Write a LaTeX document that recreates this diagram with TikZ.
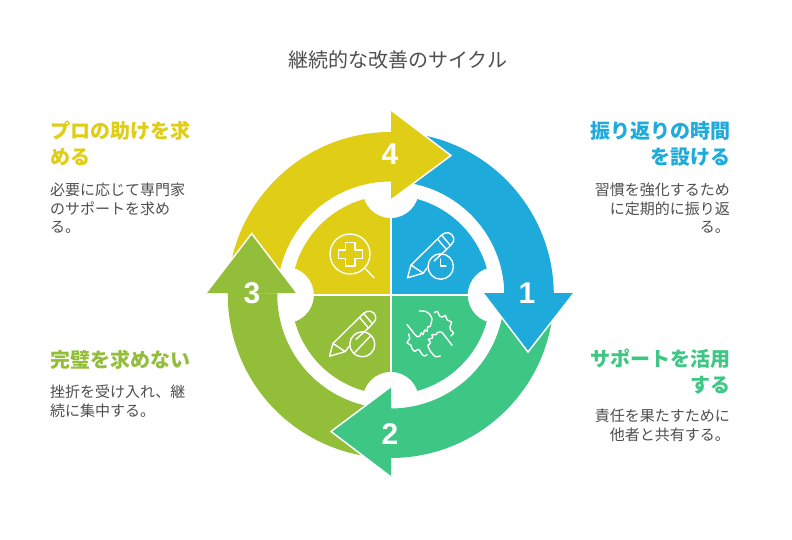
\documentclass[tikz,border=0pt]{standalone}
\usepackage{fontspec}
\setmainfont{Noto Sans CJK JP}
\newfontfamily\numfont{Liberation Sans}
\definecolor{cblue}{HTML}{1EABDB}
\definecolor{cgreen}{HTML}{3EC685}
\definecolor{colive}{HTML}{93BE39}
\definecolor{cyellow}{HTML}{E0CD15}
\definecolor{cbody}{HTML}{4F4F4F}
\tikzset{
  x=1pt,y=-1pt,
  maintitle/.style={font=\fontsize{20}{25}\selectfont,text=cbody,inner sep=0pt},
  headline/.style={font=\fontsize{20}{25.7}\selectfont\bfseries,inner sep=0pt},
  bodytext/.style={font=\fontsize{15}{18.4}\selectfont,text=cbody,inner sep=0pt},
  leftblock/.style={anchor=north west,align=left},
  rightblock/.style={anchor=north east,align=right},
  numlabel/.style={font=\fontsize{30}{30}\selectfont\numfont\bfseries,text=white,inner sep=0pt},
  iconline/.style={draw=white,line width=1.4pt,line cap=round,line join=round},
  headedge/.style={draw=white,line width=1.5pt},
}
\newcommand{\ringpart}[3]{\fill[#1] (#2:163) arc[start angle=#2,end angle=#3,radius=163pt] -- (#3:113.5) arc[start angle=#3,end angle=#2,radius=113.5pt] -- cycle;}
\newcommand{\piepart}[3]{\fill[#1] (0,0) -- (#2:99.5) arc[start angle=#2,end angle=#3,radius=99.5pt] -- cycle;}
\newcommand{\pencilicon}{%
  \draw[iconline] (411,265) -- (407.5,277.8) -- (423.2,273.2) -- cycle;
  \draw[iconline] (411,265) -- (437.5,239);
  \draw[iconline] (437.5,239) -- (446.5,249.5);
  \draw[iconline] (441.5,235) -- (450.5,245.5);
  \draw[iconline] (437.5,239) -- (441.5,235) .. controls (446,231) and (452,232.5) .. (453.5,237.5) .. controls (454.2,241) and (453,243) .. (450.5,245.5) -- (446.5,249.5);
  \draw[iconline] (446.5,249.5) -- (434,261);
  \draw[iconline] (427,268) -- (423.2,273.2);
}
\begin{document}
\begin{tikzpicture}
\useasboundingbox (0,0) rectangle (792,540);
\fill[white] (0,0) rectangle (792,540);
\coordinate (hub) at (390.8,295);

% inner quadrants with their notches, then the ring arcs
\begin{scope}[shift={(hub)},x=1pt,y=1pt]
  \piepart{cblue}{0}{90}
  \piepart{cyellow}{90}{180}
  \piepart{colive}{180}{270}
  \piepart{cgreen}{270}{360}
  \draw[white,line width=2pt] (-100,0) -- (100,0);
  \draw[white,line width=2pt] (0,-100) -- (0,100);
  \fill[white] (0:105) circle[radius=28pt];
  \fill[white] (90:105) circle[radius=28pt];
  \fill[white] (180:105) circle[radius=28pt];
  \fill[white] (270:105) circle[radius=28pt];
  \ringpart{cblue}{0}{90}
  \ringpart{cyellow}{90}{180}
  \ringpart{colive}{179.3}{270}
  \ringpart{cgreen}{270}{360}
\end{scope}

% arrow heads
\coordinate (h1a) at (483,293); \coordinate (h1b) at (528,352); \coordinate (h1c) at (574,293);
\coordinate (h2a) at (391,386.5); \coordinate (h2b) at (331,431.5); \coordinate (h2c) at (391,477);
\coordinate (h3a) at (206,293); \coordinate (h3b) at (251.7,233.5); \coordinate (h3c) at (297,293);
\coordinate (h4a) at (391,110); \coordinate (h4b) at (451,155.5); \coordinate (h4c) at (391,200);

\fill[cblue] (h1a) -- (h1b) -- (h1c) -- cycle;
\draw[headedge] (h1a) -- (h1b) -- (h1c);
\fill[cgreen] (h2a) -- (h2b) -- (h2c) -- cycle;
\draw[headedge] (h2a) -- (h2b) -- (h2c);
\fill[colive] (h3a) -- (h3b) -- (h3c) -- cycle;
\draw[headedge] (h3a) -- (h3b) -- (h3c);
\fill[cyellow] (h4a) -- (h4b) -- (h4c) -- cycle;
\draw[headedge] (h4a) -- (h4b) -- (h4c);

\node[numlabel] (n1) at (527,293) {1};
\node[numlabel] (n2) at (390,434) {2};
\node[numlabel] (n3) at (252,293) {3};
\node[numlabel] (n4) at (390,154) {4};

% icons
\begin{scope}
  \pencilicon
  \draw[iconline] (440.7,266.5) circle[radius=12.7pt];
  \draw[iconline] (440.7,259) -- (440.7,266) -- (446,266);
\end{scope}
\begin{scope}[shift={(-78,78.4)}]
  \pencilicon
\end{scope}
\draw[iconline] (362.3,344.3) circle[radius=12.5pt];
\draw[iconline] (354,353.3) -- (370.7,335.7);
% magnifier
\draw[iconline] (350,254) circle[radius=20pt];
\draw[iconline] (365.7,269) -- (374,277.7);
\draw[iconline] (345.7,242.7) -- (355,242.7) -- (355,250) -- (362.7,250) -- (362.7,258.3) -- (355,258.3) -- (355,266) -- (345.7,266) -- (345.7,258.3) -- (338.3,258.3) -- (338.3,250) -- (345.7,250) -- cycle;
% hands
\begin{scope}[shift={(402,306)},x=0.3333pt,y=-0.3333pt]
  \draw[iconline] plot[smooth,tension=.4] coordinates {(15,55) (30,75) (45,92) (53,91) (58,80) (63,86) (68,72) (75,76) (77,62) (84,62) (90,38) (82,24) (70,16) (52,15)};
  \draw[iconline] plot[smooth,tension=.4] coordinates {(97,20) (106,16) (113,30) (122,33) (130,28) (136,42) (149,48) (144,62) (146,72) (155,80) (147,90)};
  \draw[iconline] plot[smooth,tension=.4] coordinates {(150,118) (135,98) (118,78) (106,80) (102,86) (90,86) (92,96) (79,100) (86,110) (78,118) (84,134) (100,152) (115,150)};
  \draw[iconline] plot[smooth,tension=.4] coordinates {(20,84) (23,98) (15,110) (27,118) (30,128) (38,136) (50,130) (60,145) (68,150) (75,146)};
\end{scope}

% texts
\node[maintitle] (title) at (397.5,60) {継続的な改善のサイクル};

\node[headline,rightblock,text=cblue] (t1) at (731,121) {振り返りの時間\\を設ける};
\node[bodytext,rightblock] (b1) at (730,183) {習慣を強化するため\\に定期的に振り返\\る。};
\node[headline,rightblock,text=cgreen] (t2) at (731,349) {サポートを活用\\する};
\node[bodytext,rightblock] (b2) at (730,409) {責任を果たすために\\他者と共有する。};
\node[headline,leftblock,text=colive] (t3) at (50,350) {完璧を求めない};
\node[bodytext,leftblock] (b3) at (50,385) {挫折を受け入れ、継\\続に集中する。};
\node[headline,leftblock,text=cyellow] (t4) at (50,121) {プロの助けを求\\める};
\node[bodytext,leftblock] (b4) at (50,183) {必要に応じて専門家\\のサポートを求め\\る。};
\end{tikzpicture}
\end{document}
